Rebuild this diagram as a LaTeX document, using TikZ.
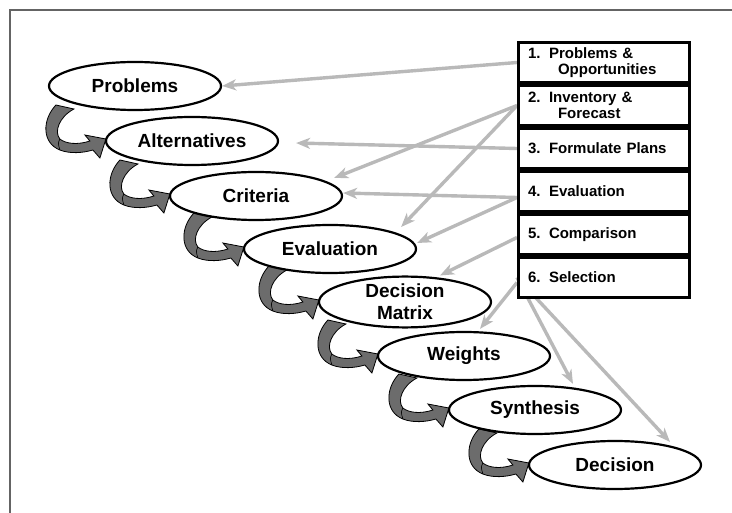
\documentclass[tikz,border=0pt]{standalone}
\usepackage{fontspec}
\setmainfont{Liberation Sans}
\usetikzlibrary{shapes.geometric,arrows.meta,positioning,backgrounds}
\definecolor{linkgray}{RGB}{185,185,185}
\definecolor{curlgray}{RGB}{108,108,108}
\definecolor{framegray}{RGB}{100,100,100}

\begin{document}
\begin{tikzpicture}[x=1pt, y=-1pt,
    stage/.style = {draw, ellipse, line width=2.2pt, fill=white, minimum width=172pt,
      minimum height=48pt, inner sep=0pt, align=center,
      font=\fontsize{19}{22}\selectfont\bfseries},
    phase/.style = {draw, rectangle, line width=3pt, fill=white, minimum height=40pt,
      text width=152pt, inner xsep=9.5pt, inner ysep=0pt, align=left,
      font=\fontsize{15}{16.5}\selectfont\bfseries},
    link/.style = {linkgray, line width=3.4pt, -{Stealth[length=14pt,width=11pt,inset=4pt]}},
    twist/.pic = {
      \filldraw[fill=curlgray, draw=black, line width=0.8pt]
        (-49,-36) .. controls (-63,-21) and (-63,2) .. (-45,9)
        .. controls (-35,13) and (-22,12) .. (-12,9) -- (-5,17) -- (1,-2) -- (-20,-6)
        -- (-15,0) .. controls (-27,4) and (-39,3) .. (-45,-2)
        .. controls (-51,-9) and (-46,-24) .. (-31,-32) -- cycle;
      \draw[line width=0.6pt] (-45,-2) .. controls (-47,2) .. (-45,9);
    }
  ]
  \useasboundingbox (0,0) rectangle (732,513);

  % steps of the method
  \node[stage] (prob) at (135,86) {Problems};
  \node[stage] (alt) at (192,141) {Alternatives};
  \node[stage] (crit) at (256,196) {Criteria};
  \node[stage] (eval) at (330,249) {Evaluation};
  \node[stage] (dm) at (405,302) {Decision\\Matrix};
  \node[stage] (wts) at (464,356) {Weights};
  \node[stage] (syn) at (535,410) {Synthesis};
  \node[stage] (dec) at (615,465) {Decision};

  % planning phases
  \node[phase] (p1) at (604,62.5) {\makebox[21pt][l]{1.}Problems \&\\\hspace*{30pt}Opportunities};
  \node[phase, below=0pt of p1] (p2) {\makebox[21pt][l]{2.}Inventory \&\\\hspace*{30pt}Forecast};
  \node[phase, below=0pt of p2] (p3) {\makebox[21pt][l]{3.}Formulate Plans};
  \node[phase, below=0pt of p3] (p4) {\makebox[21pt][l]{4.}Evaluation};
  \node[phase, below=0pt of p4] (p5) {\makebox[21pt][l]{5.}Comparison};
  \node[phase, below=0pt of p5] (p6) {\makebox[21pt][l]{6.}Selection};

  \begin{scope}[on background layer]
    \draw[framegray, line width=2pt] (10,513) -- (10,10) -- (732,10);
    \pic at (alt.west) {twist};
    \pic at (crit.west) {twist};
    \pic at (eval.west) {twist};
    \pic at (dm.west) {twist};
    \pic at (wts.west) {twist};
    \pic at (syn.west) {twist};
    \pic at (dec.west) {twist};

    \draw[link] (p1.west) -- (prob.east);
    \draw[link] (p2.west) -- ([xshift=-9pt,yshift=18pt]crit.east);
    \draw[link] (p2.west) -- ([xshift=-16pt,yshift=22pt]eval.east);
    \draw[link] (p3.west) -- ([xshift=17pt,yshift=-2pt]alt.east);
    \draw[link] ([yshift=-6pt]p4.west) -- ([yshift=3pt]crit.east);
    \draw[link] ([yshift=-6pt]p4.west) -- ([yshift=6pt]eval.east);
    \draw[link] ([yshift=-3pt]p5.west) -- ([xshift=35pt]dm.north);
    \draw[link] ([yshift=-5pt]p6.west) -- ([xshift=16pt,yshift=2pt]wts.north);
    \draw[link] (p6.west) -- ([xshift=38pt,yshift=1pt]syn.north);
    \draw[link] (p6.west) -- ([xshift=55pt,yshift=-2pt]dec.north);
  \end{scope}
\end{tikzpicture}
\end{document}
